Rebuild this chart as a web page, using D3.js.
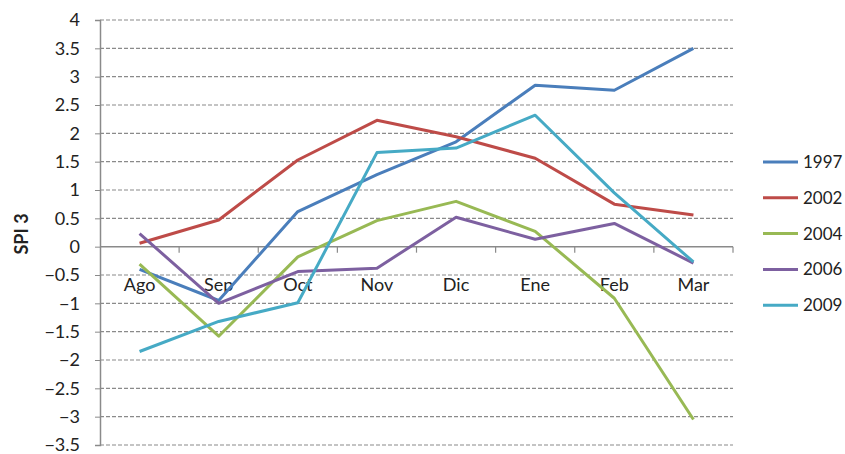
<!DOCTYPE html>
<html>
<head>
<meta charset="utf-8">
<script src="https://cdn.jsdelivr.net/npm/d3@7"></script>
<style>
  body { margin: 0; background: #fff; }
  text { font-family: Lato, "Open Sans", sans-serif; fill: #222; }
</style>
</head>
<body>
<div id="container"></div>
<script>
var width = 845,
    height = 454;

// data
var months = ["Ago", "Sep", "Oct", "Nov", "Dic", "Ene", "Feb", "Mar"];
var years = ["1997", "2002", "2004", "2006", "2009"];
var colors = ["#4a7ebb", "#be4b48", "#98b954", "#7d60a0", "#46aac5"];
var s1997 = [-0.4, -0.95, 0.62, 1.27, 1.85, 2.85, 2.76, 3.5];
var s2002 = [0.06, 0.47, 1.53, 2.23, 1.94, 1.56, 0.75, 0.56];
var s2004 = [-0.31, -1.58, -0.18, 0.46, 0.8, 0.27, -0.91, -3.05];
var s2006 = [0.23, -1.0, -0.44, -0.38, 0.52, 0.13, 0.41, -0.29];
var s2009 = [-1.85, -1.32, -0.99, 1.66, 1.74, 2.32, 0.95, -0.27];
var yTicks = [4, 3.5, 3, 2.5, 2, 1.5, 1, 0.5, 0, -0.5, -1, -1.5, -2, -2.5, -3, -3.5];

var allSeries = [s1997, s2002, s2004, s2006, s2009];

var svg = d3.select("#container").append("svg")
  .attr("width", width)
  .attr("height", height);

var x = d3.scaleBand().domain(months).range([100, 733]);
var y = d3.scaleLinear().domain([-3.5, 4]).range([445, 20]);

// gridlines
svg.append("g")
  .selectAll("line")
  .data(yTicks.filter(function(d) { return d !== 0; }))
  .enter().append("line")
  .attr("x1", 100).attr("x2", 733)
  .attr("y1", function(d) { return y(d); })
  .attr("y2", function(d) { return y(d); })
  .attr("stroke", "#8a8a8a")
  .attr("stroke-width", 1.2)
  .attr("stroke-dasharray", "4,2");

// y axis
var yAxis = d3.axisLeft(y).tickValues(yTicks).tickSize(5).tickFormat(d3.format(""));
var gy = svg.append("g").attr("transform", "translate(100,0)").call(yAxis);
gy.select(".domain").attr("stroke", "#8a8a8a").attr("stroke-width", 1.5);
gy.selectAll(".tick line").attr("stroke", "#8a8a8a");
gy.selectAll(".tick text")
  .attr("x", -20)
  .style("font-size", "18px")
  .style("font-family", "Lato, sans-serif")
  .attr("fill", "#222");

// zero axis with category ticks
svg.append("line")
  .attr("x1", 100).attr("x2", 733)
  .attr("y1", y(0)).attr("y2", y(0))
  .attr("stroke", "#8a8a8a").attr("stroke-width", 1.5);

svg.append("g")
  .selectAll("line")
  .data(months)
  .enter().append("line")
  .attr("x1", function(d) { return x(d) + x.bandwidth(); })
  .attr("x2", function(d) { return x(d) + x.bandwidth(); })
  .attr("y1", y(0)).attr("y2", y(0) + 6)
  .attr("stroke", "#8a8a8a").attr("stroke-width", 1.2);

svg.append("g")
  .selectAll("text")
  .data(months)
  .enter().append("text")
  .attr("x", function(d) { return x(d) + x.bandwidth() / 2; })
  .attr("y", y(0) + 44)
  .attr("text-anchor", "middle")
  .style("font-size", "18px")
  .text(function(d) { return d; });

// lines
var line = d3.line()
  .x(function(d, i) { return x(months[i]) + x.bandwidth() / 2; })
  .y(function(d) { return y(d); });

svg.append("g")
  .selectAll("path")
  .data(allSeries)
  .enter().append("path")
  .attr("d", line)
  .attr("fill", "none")
  .attr("stroke", function(d, i) { return colors[i]; })
  .attr("stroke-width", 3)
  .attr("stroke-linejoin", "round");

// axis title
svg.append("text")
  .attr("transform", "translate(28,234) rotate(-90)")
  .attr("text-anchor", "middle")
  .style("font-size", "18px")
  .style("font-weight", "bold")
  .text("SPI 3");

// legend
var legend = svg.append("g")
  .selectAll("g")
  .data(years)
  .enter().append("g")
  .attr("transform", function(d, i) { return "translate(763," + (162 + i * 35.8) + ")"; });

legend.append("line")
  .attr("x1", 0).attr("x2", 35)
  .attr("stroke", function(d, i) { return colors[i]; })
  .attr("stroke-width", 3);

legend.append("text")
  .attr("x", 40)
  .attr("y", 6)
  .style("font-size", "17px")
  .text(function(d) { return d; });
</script>
</body>
</html>
